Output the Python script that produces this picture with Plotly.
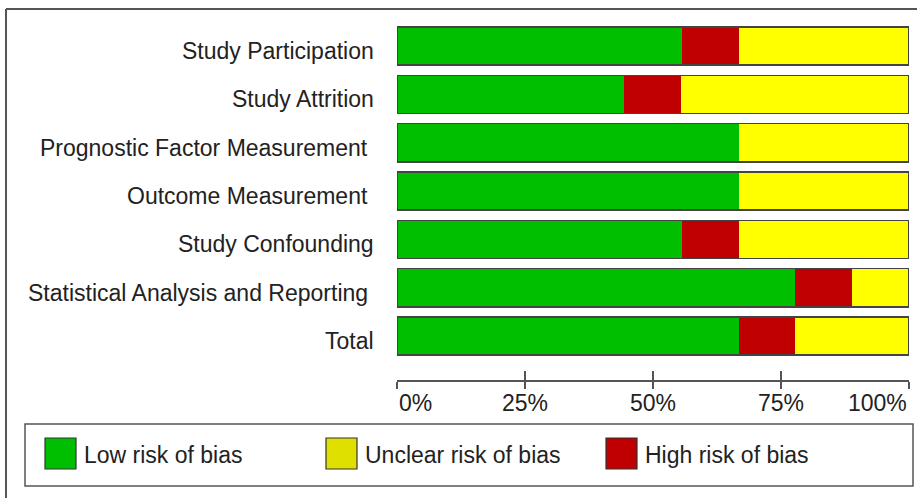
import plotly.graph_objects as go

# Risk of bias summary (percent of studies)
domains = [
    "Study Participation",
    "Study Attrition",
    "Prognostic Factor Measurement\u00a0",
    "Outcome Measurement\u00a0",
    "Study Confounding",
    "Statistical Analysis and Reporting\u00a0",
    "Total",
]
low_risk = [55.6, 44.4, 66.7, 66.7, 55.6, 77.8, 66.7]
high_risk = [11.1, 11.1, 0.0, 0.0, 11.1, 11.1, 11.1]
unclear_risk = [33.3, 44.5, 33.3, 33.3, 33.3, 11.1, 22.2]
tick_vals = [0, 25, 50, 75, 100]
tick_text = ["0%", "25%", "50%", "75%", "100%"]

series = [
    ("Low risk of bias", low_risk, "#00bf00"),
    ("High risk of bias", high_risk, "#c00000"),
    ("Unclear risk of bias", unclear_risk, "#ffff00"),
]
legend_items = [
    ("Low risk of bias", "#00bf00"),
    ("Unclear risk of bias", "#e0e000"),
    ("High risk of bias", "#c00000"),
]

W, H = 917, 498
L, R, T, B = 397, 8, 22, 118
PW, PH = W - L - R, H - T - B
FONT = dict(family="Liberation Sans, Arial, sans-serif", size=23, color="#222222")
EDGE = "#444444"


def px(x):
    return (x - L) / PW


def py(y):
    return (H - B - y) / PH


fig = go.Figure()

for name, vals, color in series:
    fig.add_trace(go.Bar(
        y=domains, x=vals, name=name, orientation="h",
        marker=dict(color=color, line=dict(width=0)),
        width=0.79, hoverinfo="skip", showlegend=False,
    ))

# outline around each whole bar, on an overlaid axis so it does not stack
totals = [a + b + c for a, b, c in zip(low_risk, high_risk, unclear_risk)]
fig.add_trace(go.Bar(
    y=domains, x=totals, orientation="h", xaxis="x2",
    marker=dict(color="rgba(0,0,0,0)", line=dict(color=EDGE, width=1.5)),
    width=0.79, hoverinfo="skip", showlegend=False,
))

annotations = []
# category labels sit a little below the bar centres
for d in domains:
    annotations.append(dict(
        x=px(376), xref="paper", y=d, yref="y", yshift=-5, text=d, showarrow=False,
        xanchor="right", yanchor="middle", font=FONT,
    ))

for v, t in zip(tick_vals, tick_text):
    anchor = "left" if v == tick_vals[0] else ("right" if v == tick_vals[-1] else "center")
    annotations.append(dict(
        x=v, xref="x", y=py(388), yref="paper", text=t, showarrow=False,
        xanchor=anchor, yanchor="top", font=FONT,
    ))

shapes = [
    # outer frame (top and left edges)
    dict(type="line", xref="paper", yref="paper", x0=px(6), x1=px(917), y0=py(9), y1=py(9),
         line=dict(color="#555555", width=2)),
    dict(type="line", xref="paper", yref="paper", x0=px(6), x1=px(6), y0=py(9), y1=py(498),
         line=dict(color="#555555", width=2)),
    # legend box
    dict(type="rect", xref="paper", yref="paper", x0=px(25), x1=px(913), y0=py(424), y1=py(486),
         line=dict(color="#555555", width=1.5), fillcolor="white"),
]

legend_x = [45, 326, 606]
for (name, color), lx in zip(legend_items, legend_x):
    shapes.append(dict(
        type="rect", xref="paper", yref="paper",
        x0=px(lx), x1=px(lx + 31), y0=py(438), y1=py(469),
        line=dict(color="#333333", width=1.2), fillcolor=color,
    ))
    annotations.append(dict(
        x=px(lx + 37), xref="paper", y=py(455), yref="paper", text=name,
        showarrow=False, xanchor="left", yanchor="middle", font=FONT,
    ))

fig.update_layout(
    width=W, height=H,
    margin=dict(l=L, r=R, t=T, b=B),
    barmode="stack",
    plot_bgcolor="white", paper_bgcolor="white",
    font=FONT,
    showlegend=False,
    xaxis=dict(
        range=[0, 100], tickvals=tick_vals, showticklabels=False,
        showgrid=False, zeroline=False, showline=True, linecolor="#555555", linewidth=2,
        ticks="outside", ticklen=7, tickwidth=1.5, tickcolor="#555555",
    ),
    xaxis2=dict(
        overlaying="x", anchor="y", side="bottom", range=[0, 100], tickvals=tick_vals,
        showticklabels=False, showgrid=False, zeroline=False, showline=False,
        ticks="inside", ticklen=9, tickwidth=1.5, tickcolor="#555555",
    ),
    yaxis=dict(
        categoryorder="array", categoryarray=domains,
        range=[len(domains) - 1 + 0.91, -0.5],
        showgrid=False, zeroline=False, showline=False,
        ticks="", showticklabels=False,
    ),
    shapes=shapes,
    annotations=annotations,
)

# drop the page's default body margin so the figure sits at the window corner
fig.write_html(
    "out.html",
    config={"displayModeBar": False},
    post_script="document.body.style.margin = '0';",
)
